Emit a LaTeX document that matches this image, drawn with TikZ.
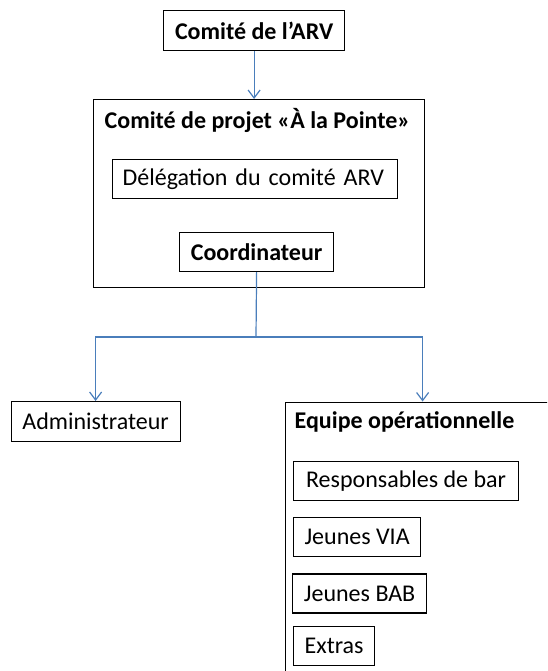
\documentclass[tikz,border=0pt]{standalone}
\usepackage{fontspec}
\setmainfont{Carlito}
\usetikzlibrary{arrows.meta, positioning}
\definecolor{linkblue}{RGB}{74,126,187}

\begin{document}
\begin{tikzpicture}[
    x=1pt, y=-1pt,
    unit/.style={rectangle, draw=black, line width=1.2pt, minimum height=39pt, inner sep=0pt, anchor=north west, font=\fontsize{24}{28}\selectfont},
    heading/.style={inner sep=0pt, font=\fontsize{24}{28}\selectfont\bfseries},
    link/.style={-{Straight Barb[length=8pt, width=12pt]}, line width=1.2pt, draw=linkblue}
]
\clip (0,0) rectangle (547,671);

% direction
\node[unit, minimum width=181pt, minimum height=40pt, font=\fontsize{24}{28}\selectfont\bfseries] (arv) at (163,10) {Comité de l’ARV};

% comite de projet
\node[unit, minimum width=331pt, minimum height=188pt] (projet) at (93,99) {};
\node[heading, anchor=base] (projettitre) at (257.5,128.5) {Comité de projet «À la Pointe»};
\node[unit, text width=265pt, align=left, inner xsep=10pt] (delegation) at (112,159) {Délégation du comité ARV};
\node[unit, minimum width=154pt, font=\fontsize{24}{28}\selectfont\bfseries] (coordinateur) at (179,232) {Coordinateur};

% niveau operationnel
\node[unit, minimum width=169pt, minimum height=40pt] (admin) at (10.5,401) {Administrateur};
\node[unit, minimum width=274pt, minimum height=300pt] (equipe) at (285,401.5) {};
\node[heading, anchor=base west] (equipetitre) at (294.5,428.3) {Equipe opérationnelle};
\node[unit, minimum width=225pt] (responsables) at (293,461) {Responsables de bar};
\node[unit, minimum width=127pt, below right=16pt and 0pt of responsables.south west] (via) {Jeunes VIA};
\node[unit, minimum width=134pt, below right=16pt and -1pt of via.south west] (bab) {Jeunes BAB};
\node[unit, minimum width=81pt, below right=12pt and 1pt of bab.south west] (extras) {Extras};

\coordinate (split) at (256,337);
\draw[link] (arv.south) -- (arv.south |- projet.north);
\draw[line width=1.2pt, linkblue] (coordinateur.south) -- (split);
\draw[link] (split) -| (admin.north);
\draw[link] (split) -| (equipe.north);
\end{tikzpicture}
\end{document}
